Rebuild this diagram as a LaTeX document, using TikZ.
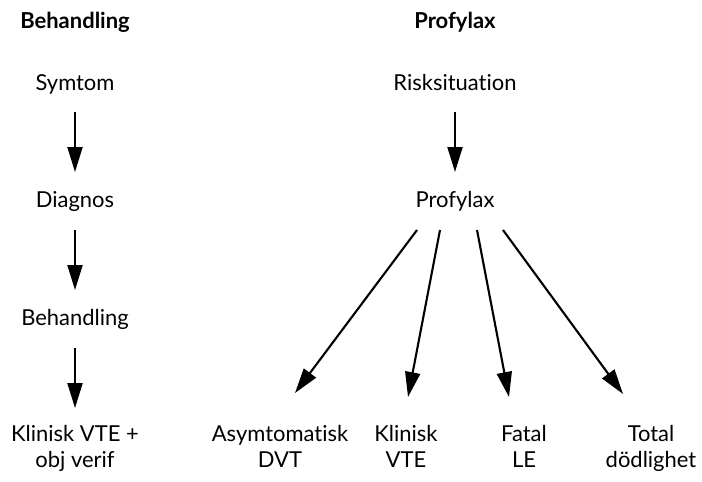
\documentclass[tikz,border=0pt]{standalone}
\usepackage{fontspec}
\setmainfont{Lato}[Ligatures=NoCommon]
\usetikzlibrary{calc,positioning,arrows.meta}

\begin{document}
\begin{tikzpicture}[x=0.02cm,y=-0.02cm,
        pil/.style={line width=1.2pt,-{Triangle[length=0.5cm,width=0.3cm]}}]
        \useasboundingbox (0,0) rectangle (702,481);

        %titles
        \begin{scope}[every node/.style={anchor=base,font=\fontsize{12.5}{14.8}\selectfont\bfseries}]
            \node (behT) at (75,28) {Behandling};
            \node (profT) at (455,28) {Profylax};
        \end{scope}

        %nodes
        \begin{scope}[every node/.style={anchor=base,align=center,font=\fontsize{12.5}{14.8}\selectfont}]
            \node (sym) at (75,90) {Symtom};
            \node (diag) at (75,207) {Diagnos};
            \node (beh) at (75,325) {Behandling};
            \node (kvte) at (75,467) {Klinisk VTE +\\obj verif};

            \node (risk) at (455,90) {Risksituation};
            \node (prof) at (455,207) {Profylax};
            \node (asym) at (280,467) {Asymtomatisk\\DVT};
            \node (klin) at (406,467) {Klinisk\\VTE};
            \node (fatal) at (524,467) {Fatal\\LE};
            \node (total) at (651,467) {Total\\dödlighet};
        \end{scope}

        %arrows
        \draw[pil] ($(sym.base)+(0,22)$) -- ($(diag.base)+(0,-35)$);
        \draw[pil] ($(diag.base)+(0,23)$) -- ($(beh.base)+(0,-35)$);
        \draw[pil] ($(beh.base)+(0,23)$) -- ($(kvte.base)+(0,-59)$);
        \draw[pil] ($(risk.base)+(0,22)$) -- ($(prof.base)+(0,-35)$);

        \draw[pil] ($(prof.base)+(-38,23)$) -- ($(asym.base)+(15,-74)$);
        \draw[pil] ($(prof.base)+(-15,23)$) -- ($(klin.base)+(2,-70)$);
        \draw[pil] ($(prof.base)+(22,23)$) -- ($(fatal.base)+(-15,-70)$);
        \draw[pil] ($(prof.base)+(48,23)$) -- ($(total.base)+(-28,-73)$);
\end{tikzpicture}
\end{document}
